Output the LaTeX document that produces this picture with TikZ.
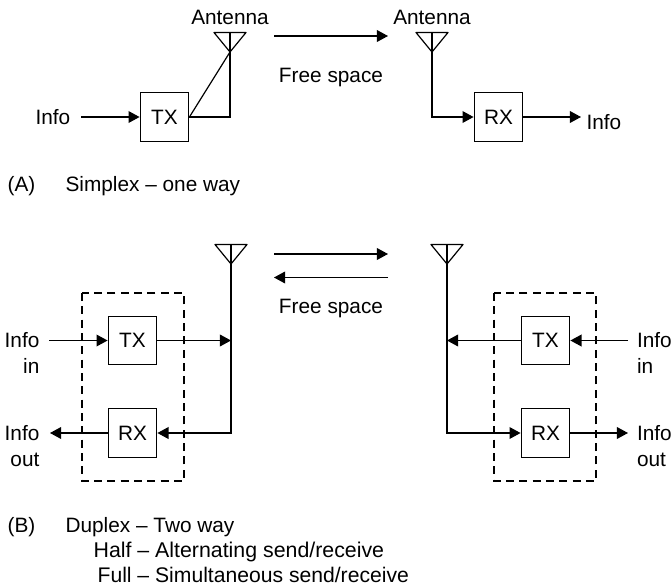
\documentclass[tikz,border=0pt]{standalone}
\usepackage{fontspec}
\setmainfont{Liberation Sans}
\usetikzlibrary{arrows.meta}
\tikzset{
    block/.style={draw, minimum size=36.5pt, inner sep=0pt, font=\fontsize{15.6}{18}\selectfont},
    lbl/.style={inner sep=0pt, font=\fontsize{15.6}{18}\selectfont},
    lbll/.style={lbl, anchor=base west},
    lblr/.style={lbl, anchor=base east},
    lblc/.style={lbl, anchor=base},
    frame/.style={dash pattern=on 6pt off 4pt, line width=.8pt}
}
\begin{document}
\begin{tikzpicture}[>={Triangle[length=8.3pt,width=8.8pt]}, x=.75pt, y=-.75pt, line width=.9pt]
\useasboundingbox (0,0) rectangle (672,586);
% (A) simplex
\node[lblc] (anta) at (230,24) {Antenna};
\node[lblc] (antb) at (432,24) {Antenna};
\node[block] (txa) at (164.5,117) {TX};
\node[block] (rxa) at (498.5,117) {RX};
\node[lbll] (infoa) at (35,124) {Info};
\node[lbll] (infob) at (586,129) {Info};
\coordinate (ina) at (81,117);
\coordinate (outa) at (581,117);
\coordinate (tipa) at (230,52);
\coordinate (topa) at (230,32.5);
\coordinate (tipb) at (432,52);
\coordinate (topb) at (432,32.5);
\draw[line join=round] (214,32.5) -- (246,32.5) -- (tipa) -- cycle;
\draw[line join=round] (416,32.5) -- (448,32.5) -- (tipb) -- cycle;
\draw (topa) |- (txa.east);
\draw (txa.east) -- (tipa);
\draw[->] (ina) -- (txa);
\draw[->] (topb) |- (rxa);
\draw[->] (rxa) -- (outa);
\coordinate (fsa) at (274,36);
\coordinate (fsb) at (388,36);
\draw[->] (fsa) -- (fsb);
\node[lblc] (fsla) at (331,82) {Free space};
\node[lbll] (capa) at (7,191.5) {(A)};
\node[lbll] (capb) at (65,191.5) {Simplex -- one way};
% (B) duplex
\node[block] (txl) at (132.5,340.5) {TX};
\node[block] (rxl) at (132.5,433) {RX};
\node[block] (txr) at (545.5,340.5) {TX};
\node[block] (rxr) at (545.5,433) {RX};
\draw[frame] (82,293) rectangle (184,481);
\draw[frame] (494,293) rectangle (596,481);
\coordinate (tipl) at (231,264);
\coordinate (topl) at (231,244.5);
\coordinate (tipr) at (447,264);
\coordinate (topr) at (447,244.5);
\draw[line join=round] (215,244.5) -- (247,244.5) -- (tipl) -- cycle;
\draw[line join=round] (431,244.5) -- (463,244.5) -- (tipr) -- cycle;
\coordinate (joinl) at (231,340.5);
\coordinate (joinr) at (447,340.5);
\draw[->] (topl) |- (rxl);
\draw[->] (topr) |- (rxr);
\draw[->] (txl) -- (joinl);
\draw[->] (txr) -- (joinr);
\coordinate (inl) at (49,340.5);
\coordinate (outl) at (50,433);
\coordinate (inr) at (628,340.5);
\coordinate (outr) at (628,433);
\draw[->] (inl) -- (txl);
\draw[->] (rxl) -- (outl);
\draw[->] (inr) -- (txr);
\draw[->] (rxr) -- (outr);
\node[lblr] (infol) at (40,347) {Info};
\node[lblr] (inll) at (40,373) {in};
\node[lblr] (infom) at (40,440) {Info};
\node[lblr] (outll) at (40,466) {out};
\node[lbll] (infor) at (636.5,347) {Info};
\node[lbll] (inlr) at (636.5,373) {in};
\node[lbll] (infos) at (636.5,440) {Info};
\node[lbll] (outlr) at (636.5,466) {out};
\coordinate (fsc) at (274,254);
\coordinate (fsd) at (388,254);
\coordinate (fse) at (388,277.5);
\coordinate (fsf) at (274,277.5);
\draw[->] (fsc) -- (fsd);
\draw[->] (fse) -- (fsf);
\node[lblc] (fslb) at (331,313) {Free space};
\node[lbll] (capc) at (7,532) {(B)};
\node[lbll] (capd) at (65,532) {Duplex -- Two way};
\node[lbll, font=\fontsize{16}{18}\selectfont] (cape) at (93,557) {Half -- Alternating send/receive};
\node[lbll, font=\fontsize{15.85}{18}\selectfont] (capf) at (97,582.5) {Full -- Simultaneous send/receive};
\end{tikzpicture}
\end{document}
